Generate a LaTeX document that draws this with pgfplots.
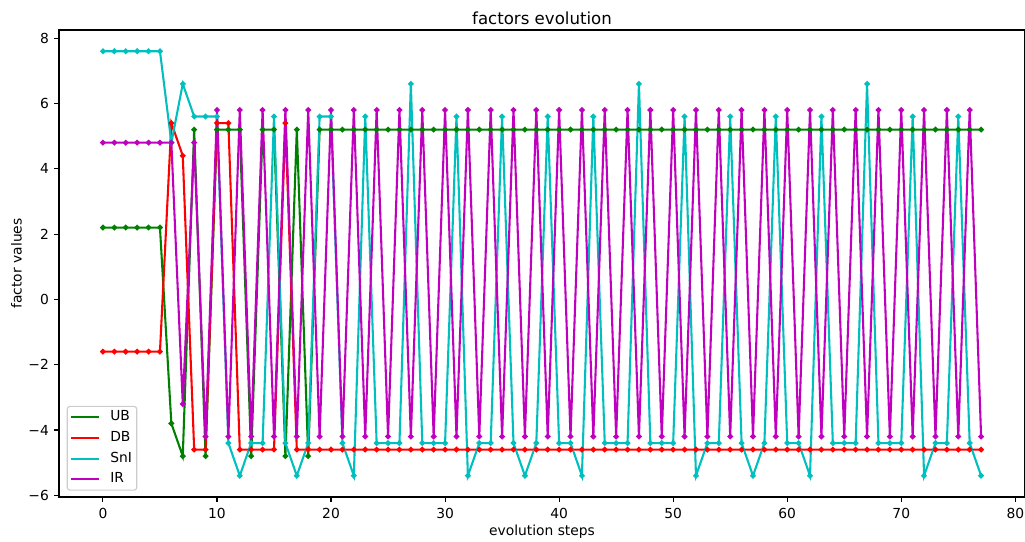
\documentclass[border=0pt]{standalone}
\usepackage{fontspec}
\setmainfont{DejaVu Sans}
\usepackage{pgfplots}
\usepackage{pgfplotstable}
\pgfplotsset{compat=1.18}
\definecolor{mgreen}{rgb}{0,0.5,0}
\definecolor{mred}{rgb}{1,0,0}
\definecolor{mcyan}{rgb}{0,0.75,0.75}
\definecolor{mmag}{rgb}{0.75,0,0.75}

\pgfplotstableread{
x UB DB SnI IR
0 2.2 -1.6 7.6 4.8
1 2.2 -1.6 7.6 4.8
2 2.2 -1.6 7.6 4.8
3 2.2 -1.6 7.6 4.8
4 2.2 -1.6 7.6 4.8
5 2.2 -1.6 7.6 4.8
6 -3.8 5.4 4.8 4.8
7 -4.8 4.4 6.6 -3.2
8 5.2 -4.6 5.6 4.8
9 -4.8 -4.6 5.6 -4.2
10 5.2 5.4 5.6 5.8
11 5.2 5.4 -4.4 -4.2
12 5.2 -4.6 -5.4 5.8
13 -4.8 -4.6 -4.4 -4.2
14 5.2 -4.6 -4.4 5.8
15 5.2 -4.6 5.6 -4.2
16 -4.8 5.4 -4.4 5.8
17 5.2 -4.6 -5.4 -4.2
18 -4.8 -4.6 -4.4 5.8
19 5.2 -4.6 5.6 -4.2
20 5.2 -4.6 5.6 5.8
21 5.2 -4.6 -4.4 -4.2
22 5.2 -4.6 -5.4 5.8
23 5.2 -4.6 5.6 -4.2
24 5.2 -4.6 -4.4 5.8
25 5.2 -4.6 -4.4 -4.2
26 5.2 -4.6 -4.4 5.8
27 5.2 -4.6 6.6 -4.2
28 5.2 -4.6 -4.4 5.8
29 5.2 -4.6 -4.4 -4.2
30 5.2 -4.6 -4.4 5.8
31 5.2 -4.6 5.6 -4.2
32 5.2 -4.6 -5.4 5.8
33 5.2 -4.6 -4.4 -4.2
34 5.2 -4.6 -4.4 5.8
35 5.2 -4.6 5.6 -4.2
36 5.2 -4.6 -4.4 5.8
37 5.2 -4.6 -5.4 -4.2
38 5.2 -4.6 -4.4 5.8
39 5.2 -4.6 5.6 -4.2
40 5.2 -4.6 -4.4 5.8
41 5.2 -4.6 -4.4 -4.2
42 5.2 -4.6 -5.4 5.8
43 5.2 -4.6 5.6 -4.2
44 5.2 -4.6 -4.4 5.8
45 5.2 -4.6 -4.4 -4.2
46 5.2 -4.6 -4.4 5.8
47 5.2 -4.6 6.6 -4.2
48 5.2 -4.6 -4.4 5.8
49 5.2 -4.6 -4.4 -4.2
50 5.2 -4.6 -4.4 5.8
51 5.2 -4.6 5.6 -4.2
52 5.2 -4.6 -5.4 5.8
53 5.2 -4.6 -4.4 -4.2
54 5.2 -4.6 -4.4 5.8
55 5.2 -4.6 5.6 -4.2
56 5.2 -4.6 -4.4 5.8
57 5.2 -4.6 -5.4 -4.2
58 5.2 -4.6 -4.4 5.8
59 5.2 -4.6 5.6 -4.2
60 5.2 -4.6 -4.4 5.8
61 5.2 -4.6 -4.4 -4.2
62 5.2 -4.6 -5.4 5.8
63 5.2 -4.6 5.6 -4.2
64 5.2 -4.6 -4.4 5.8
65 5.2 -4.6 -4.4 -4.2
66 5.2 -4.6 -4.4 5.8
67 5.2 -4.6 6.6 -4.2
68 5.2 -4.6 -4.4 5.8
69 5.2 -4.6 -4.4 -4.2
70 5.2 -4.6 -4.4 5.8
71 5.2 -4.6 5.6 -4.2
72 5.2 -4.6 -5.4 5.8
73 5.2 -4.6 -4.4 -4.2
74 5.2 -4.6 -4.4 5.8
75 5.2 -4.6 5.6 -4.2
76 5.2 -4.6 -4.4 5.8
77 5.2 -4.6 -5.4 -4.2
}\factors

\begin{document}
\begin{tikzpicture}
\begin{axis}[
  scale only axis, width=695.5bp, height=336.2bp,
  xmin=-3.85, xmax=80.85, ymin=-6.05, ymax=8.25,
  xtick={0,10,20,30,40,50,60,70,80},
  xticklabels={0,10,20,30,40,50,60,70,80},
  ytick={-6,-4,-2,0,2,4,6,8},
  yticklabels={−6,−4,−2,0,2,4,6,8},
  tick pos=left, tick align=outside, major tick length=3.5bp,
  tick style={black, line width=0.8bp},
  axis line style={line width=0.8bp},
  /pgf/number format/assume math mode=true,
  ticklabel style={font=\fontsize{10}{12}\selectfont},
  xticklabel style={anchor=north, inner sep=0pt, yshift=-4.3bp},
  yticklabel style={anchor=east, inner sep=0pt, xshift=-3.6bp},
  title={factors evolution},
  title style={font=\fontsize{12}{14}\selectfont, at={(axis description cs:0.5,1)}, anchor=base, yshift=-2.2bp},
  xlabel={evolution steps},
  xlabel style={font=\fontsize{10}{12}\selectfont, at={(axis description cs:0.5,0)}, anchor=base, yshift=-27.4bp},
  ylabel={factor values},
  ylabel style={font=\fontsize{10}{12}\selectfont, at={(axis description cs:0,0.5)}, anchor=base, yshift=26.9bp},
  legend style={
    at={(axis description cs:0,0)}, anchor=south west, xshift=5.5bp, yshift=4.5bp,
    draw=black!20, line width=0.8bp, rounded corners=2bp,
    fill=white, fill opacity=0.8, text opacity=1, draw opacity=1,
    font=\fontsize{10}{12}\selectfont,
    inner xsep=2bp, inner ysep=1.5bp, row sep=2.3bp, column sep=6bp,
    nodes={inner sep=1.5bp, text height=7.3bp, text depth=2.3bp},
  },
  legend cell align=left,
  legend image code/.code={\draw[#1, line width=1.5bp, rounded corners=0pt] (0bp,0bp) -- (20bp,0bp);},
  every axis plot/.append style={line width=1.5bp, mark=*, mark size=1.2bp, mark options={solid}},
]
\addplot[mgreen] table[x=x, y=UB] {\factors};
\addlegendentry{UB}
\addplot[mred] table[x=x, y=DB] {\factors};
\addlegendentry{DB}
\addplot[mcyan] table[x=x, y=SnI] {\factors};
\addlegendentry{SnI}
\addplot[mmag] table[x=x, y=IR] {\factors};
\addlegendentry{IR}
\coordinate (SW) at (rel axis cs:0,0);
\coordinate (NE) at (rel axis cs:1,1);
\end{axis}
\pgfresetboundingbox
\path[use as bounding box] ([xshift=-42.5bp,yshift=-32.4bp]SW) rectangle ([yshift=21.6bp]NE);
\end{tikzpicture}
\end{document}
